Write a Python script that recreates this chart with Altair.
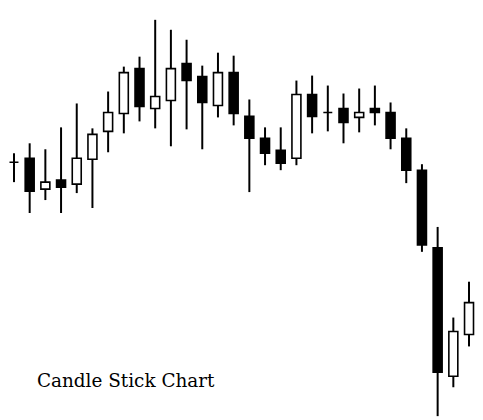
import altair as alt
import pandas as pd

# Candle index
day = list(range(1, 31))
open_ = [258, 262, 231, 240, 236, 261, 289, 307, 352, 312,
         320, 357, 344, 315, 348, 304, 282, 270, 262, 326,
         308, 312, 303, 312, 308, 282, 250, 172, 43, 85]
high = [267, 277, 271, 293, 317, 292, 329, 354, 364, 401,
        391, 381, 355, 368, 365, 321, 293, 293, 340, 345,
        335, 327, 332, 335, 318, 292, 256, 193, 102, 138]
low = [238, 207, 220, 207, 227, 212, 268, 287, 299, 292,
       274, 291, 271, 303, 295, 228, 255, 250, 255, 287,
       289, 277, 288, 295, 271, 237, 168, 3, 32, 73]
close = [258, 229, 238, 233, 262, 286, 308, 348, 314, 324,
         352, 340, 318, 348, 307, 282, 267, 257, 326, 304,
         308, 298, 308, 308, 282, 250, 175, 47, 88, 117]

title_text = "Candle Stick Chart"

df = pd.DataFrame({"day": day, "open": open_, "high": high, "low": low, "close": close})
df["dir"] = ["down" if c < o else "up" for o, c in zip(open_, close)]

xs = alt.Scale(domain=[0.619, 30.254], nice=False, zero=False, padding=0)
ys = alt.Scale(domain=[12, 412], nice=False, zero=False, padding=0)

base = alt.Chart(df)

wick = base.mark_rule(color="black", strokeWidth=2).encode(
    x=alt.X("day:Q", scale=xs, axis=None),
    y=alt.Y("low:Q", scale=ys, axis=None),
    y2="high:Q",
)

body = base.mark_bar(width=9, stroke="black", strokeWidth=1.6).encode(
    x=alt.X("day:Q", scale=xs, axis=None),
    y=alt.Y("open:Q", scale=ys, axis=None),
    y2="close:Q",
    fill=alt.Fill("dir:N", scale=alt.Scale(domain=["up", "down"], range=["white", "black"]), legend=None),
)

label = alt.Chart(pd.DataFrame({"t": [title_text]})).mark_text(
    align="left", baseline="alphabetic", font="DejaVu Serif", fontSize=18.5, color="black"
).encode(
    x=alt.value(29), y=alt.value(380), text="t:N"
)

chart = alt.layer(wick, body, label).properties(
    width=467, height=400, padding=0, background="white"
).configure_view(stroke=None)

chart.save("out.html", embed_options={"renderer": "svg", "actions": False})
